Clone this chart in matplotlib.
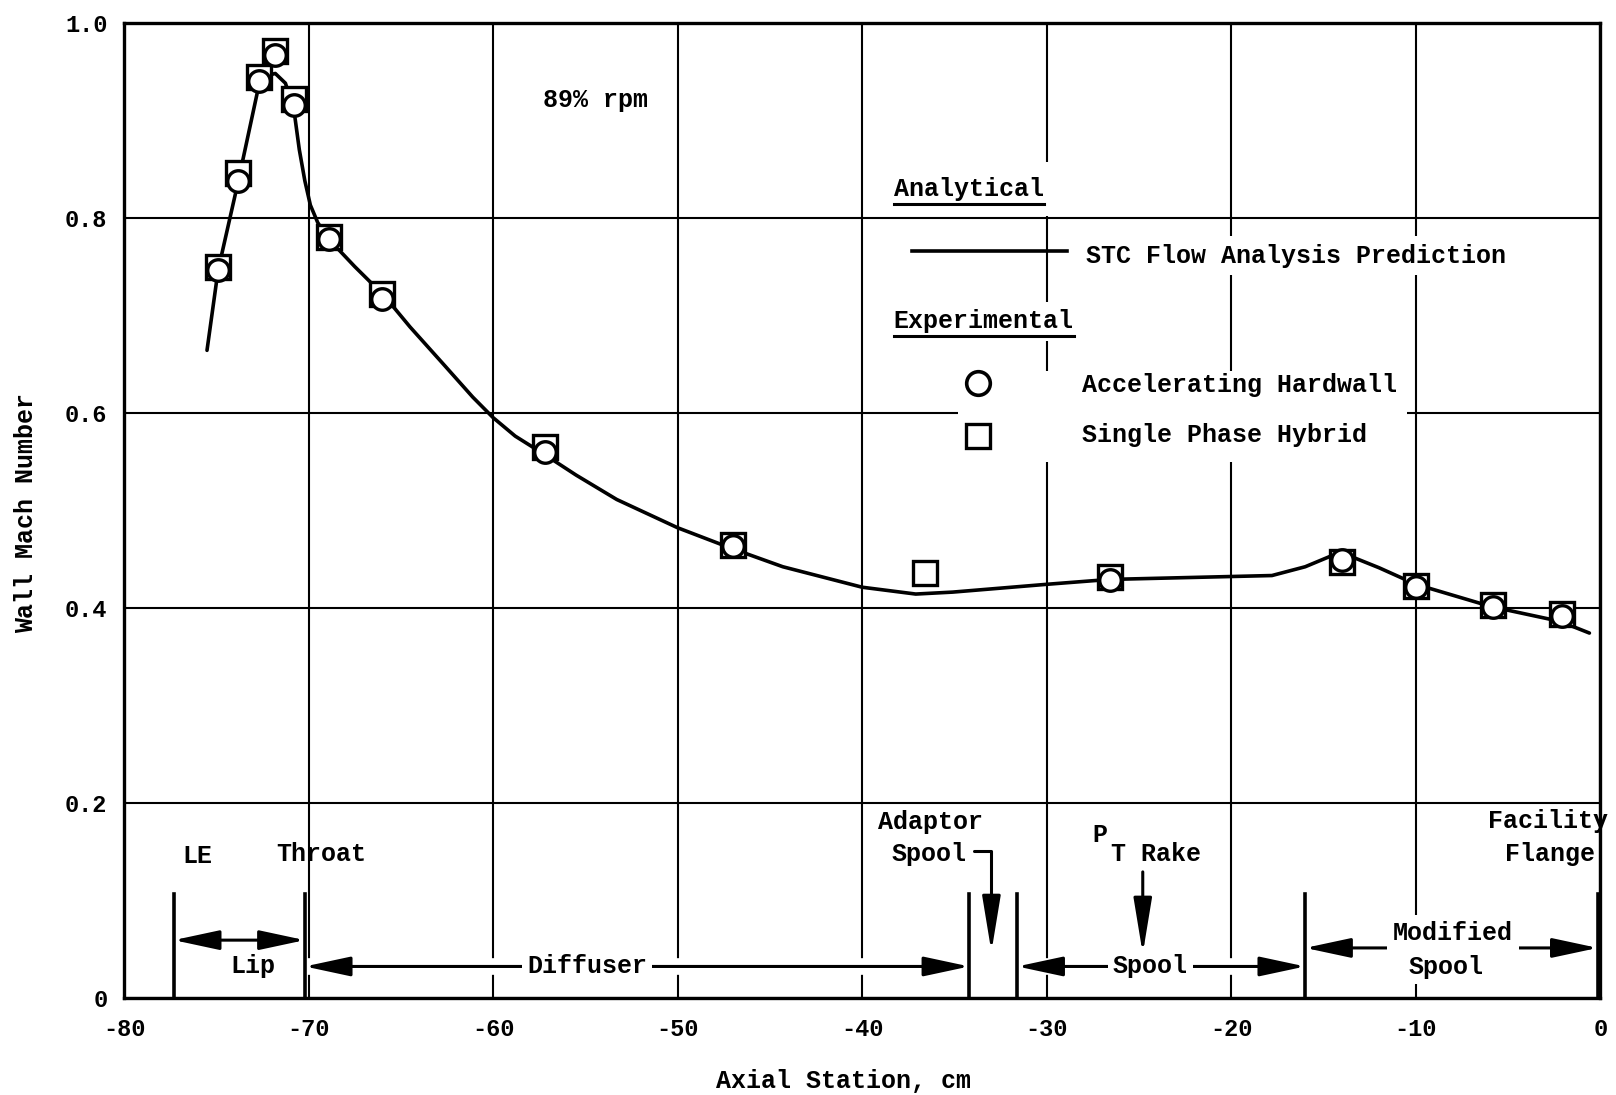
import matplotlib.pyplot as plt
from matplotlib.patches import Rectangle

plt.rcParams["font.family"] = ["Liberation Mono", "DejaVu Sans Mono"]
plt.rcParams["font.weight"] = "bold"
plt.rcParams["axes.labelweight"] = "bold"

# STC flow analysis prediction (analytical curve)
curve_x = [-75.5, -74.9, -73.8, -72.7, -72.2, -71.8, -71.25, -70.8, -70.5, -70.2,
           -69.9, -69.5, -68.9, -67.5, -65.9, -64.5, -62.7, -61.1, -60.0, -58.8,
           -57.2, -55.5, -53.3, -50.0, -47.1, -44.3, -40.0, -37.1, -35.1, -30.0,
           -26.6, -20.0, -17.8, -16.0, -14.1, -12.0, -10.0, -5.9, -2.2, -0.6]
curve_y = [0.664, 0.746, 0.838, 0.935, 0.946, 0.948, 0.938, 0.912, 0.870, 0.838,
           0.813, 0.795, 0.778, 0.750, 0.720, 0.688, 0.650, 0.616, 0.595, 0.576,
           0.557, 0.536, 0.511, 0.482, 0.461, 0.442, 0.421, 0.414, 0.416, 0.424,
           0.429, 0.432, 0.433, 0.442, 0.457, 0.441, 0.424, 0.401, 0.386, 0.374]

# experimental: accelerating hardwall (circles)
hard_x = [-74.9, -73.8, -72.7, -71.8, -70.8, -68.9, -66.0, -57.2, -47.0,
          -26.6, -14.0, -10.0, -5.8, -2.1]
hard_y = [0.746, 0.838, 0.940, 0.967, 0.916, 0.778, 0.717, 0.560, 0.463,
          0.428, 0.449, 0.421, 0.401, 0.392]

# experimental: single phase hybrid (squares)
hyb_x = [-74.9, -73.8, -72.7, -71.8, -70.8, -68.9, -66.0, -57.2, -47.0,
         -36.6, -26.6, -14.0, -10.0, -5.8, -2.1]
hyb_y = [0.749, 0.846, 0.944, 0.971, 0.922, 0.780, 0.722, 0.565, 0.464,
         0.436, 0.432, 0.447, 0.422, 0.403, 0.394]

x_ticks = [-80, -70, -60, -50, -40, -30, -20, -10, 0]
x_tick_labels = ["-80", "-70", "-60", "-50", "-40", "-30", "-20", "-10", "0"]
y_ticks = [0, 0.2, 0.4, 0.6, 0.8, 1.0]
y_tick_labels = ["0", "0.2", "0.4", "0.6", "0.8", "1.0"]

# station boundaries along the duct, cm
le_x = -77.3
throat_x = -70.2
adaptor_start = -34.2
adaptor_end = -31.6
adaptor_probe = -33.0
rake_x = -24.8
modified_start = -16.0
flange_x = -0.15

FS = 18
fig = plt.figure(figsize=(16.16, 10.95), dpi=100)
ax = fig.add_axes([0.0767, 0.0889, 0.9137, 0.8903])

ax.set_xlim(-80, 0)
ax.set_ylim(0, 1.0)
ax.set_xticks(x_ticks)
ax.set_xticklabels(x_tick_labels)
ax.set_yticks(y_ticks)
ax.set_yticklabels(y_tick_labels)
ax.tick_params(axis="x", length=0, pad=15, labelsize=17)
ax.tick_params(axis="y", length=0, pad=12, labelsize=17)
ax.set_axisbelow(True)
ax.grid(True, color="black", lw=1.5)
for sp in ax.spines.values():
    sp.set_linewidth(2.4)

ax.set_xlabel("Axial Station, cm", fontsize=FS)
ax.xaxis.set_label_coords(0.487, -0.0855)
ax.xaxis.label.set_va("center")
ax.set_ylabel("Wall Mach Number", fontsize=FS)
ax.yaxis.set_label_coords(-0.0665, 0.497)
ax.yaxis.label.set_va("center")

# data
ax.plot(curve_x, curve_y, color="black", lw=2.6, solid_joinstyle="round",
        solid_capstyle="round", zorder=3)
ax.plot(hyb_x, hyb_y, ls="none", marker="s", ms=17, mfc="white", mec="black",
        mew=2.4, zorder=4)
ax.plot(hard_x, hard_y, ls="none", marker="o", ms=15.5, mfc="white", mec="black",
        mew=2.4, zorder=5)

ax.text(-57.3, 0.921, "89% rpm", fontsize=FS, ha="left", va="center")

# legend block
white = dict(boxstyle="square,pad=0.3", fc="white", ec="none")
ax.add_patch(Rectangle((-34.8, 0.549), 24.3, 0.094, fc="white", ec="none", zorder=1))
t_an = ax.text(-38.3, 0.829, "Analytical", fontsize=FS, ha="left", va="center",
               bbox=dict(boxstyle="square,pad=0.6", fc="white", ec="none"), zorder=5)
ax.plot([-37.3, -28.9], [0.766, 0.766], color="black", lw=2.6, zorder=5)
ax.text(-27.9, 0.761, "STC Flow Analysis Prediction", fontsize=FS, ha="left",
        va="center", bbox=white, zorder=5)
t_ex = ax.text(-38.3, 0.694, "Experimental", fontsize=FS, ha="left", va="center",
               bbox=white, zorder=5)
ax.plot([-33.7], [0.631], ls="none", marker="o", ms=17, mfc="white", mec="black",
        mew=2.6, zorder=6)
ax.text(-28.1, 0.628, "Accelerating Hardwall", fontsize=FS, ha="left", va="center",
        zorder=5)
ax.plot([-33.7], [0.576], ls="none", marker="s", ms=17, mfc="white", mec="black",
        mew=2.4, zorder=6)
ax.text(-28.1, 0.577, "Single Phase Hybrid", fontsize=FS, ha="left", va="center",
        zorder=5)

fig.canvas.draw()
inv = ax.transData.inverted()
for t in (t_an, t_ex):
    bb = t.get_window_extent()
    (x0, y0), (x1, _) = inv.transform([[bb.x0, bb.y0 - 3], [bb.x1, bb.y1]])
    ax.plot([x0, x1], [y0, y0], color="black", lw=2.2, zorder=7)

# duct station markers
for sx in (le_x, throat_x, adaptor_start, adaptor_end, modified_start, flange_x):
    ax.plot([sx, sx], [0, 0.106], color="black", lw=2.6, zorder=6)


def span_arrow(x0, x1, y, mask=True):
    if mask:
        # breaks the grid lines where the dimension line runs
        ax.plot([x0, x1], [y, y], color="white", lw=12, solid_capstyle="butt",
                zorder=3.5)
    ax.annotate("", xy=(x1, y), xytext=(x0, y),
                arrowprops=dict(arrowstyle="<|-|>,head_length=1.4,head_width=0.3",
                                mutation_scale=20, lw=2.2, color="black",
                                shrinkA=0, shrinkB=0), zorder=4)


def down_arrow(x, y0, y1, conn="arc3"):
    ax.annotate("", xy=(x, y1), xytext=(x if conn == "arc3" else x - 0.95, y0),
                arrowprops=dict(arrowstyle="-|>,head_length=1.7,head_width=0.28",
                                mutation_scale=20, lw=2.2, color="black",
                                shrinkA=0, shrinkB=0, connectionstyle=conn),
                zorder=4)


span_arrow(le_x, throat_x, 0.059, mask=False)
span_arrow(throat_x, adaptor_start, 0.032)
span_arrow(adaptor_end, modified_start, 0.032)
span_arrow(modified_start, flange_x, 0.051)
down_arrow(adaptor_probe, 0.150, 0.047, conn="angle,angleA=0,angleB=90,rad=0")
down_arrow(rake_x, 0.129, 0.045)

tb = dict(boxstyle="square,pad=0.2", fc="white", ec="none")
ax.text(-76.0, 0.145, "LE", fontsize=FS, ha="center", va="center")
ax.text(-69.3, 0.147, "Throat", fontsize=FS, ha="center", va="center")
ax.text(-73.0, 0.032, "Lip", fontsize=FS, ha="center", va="center")
ax.text(-54.9, 0.032, "Diffuser", fontsize=FS, ha="center", va="center", bbox=tb,
        zorder=5)
ax.text(-36.3, 0.180, "Adaptor", fontsize=FS, ha="center", va="center")
ax.text(-36.4, 0.147, "Spool", fontsize=FS, ha="center", va="center")
ax.text(-27.1, 0.167, "P", fontsize=FS, ha="center", va="center")
ax.text(-26.5, 0.147, "T Rake", fontsize=FS, ha="left", va="center")
ax.text(-24.4, 0.032, "Spool", fontsize=FS, ha="center", va="center", bbox=tb,
        zorder=5)
ax.text(-8.0, 0.066, "Modified", fontsize=FS, ha="center", va="center",
        bbox=dict(boxstyle="square,pad=0.25", fc="white", ec="none"), zorder=5)
ax.text(-8.35, 0.031, "Spool", fontsize=FS, ha="center", va="center", bbox=tb,
        zorder=5)
ax.text(0.4, 0.181, "Facility", fontsize=FS, ha="right", va="center", clip_on=False,
        zorder=7)
ax.text(-0.3, 0.147, "Flange", fontsize=FS, ha="right", va="center", zorder=7)

fig.savefig("out.png", dpi=100)
